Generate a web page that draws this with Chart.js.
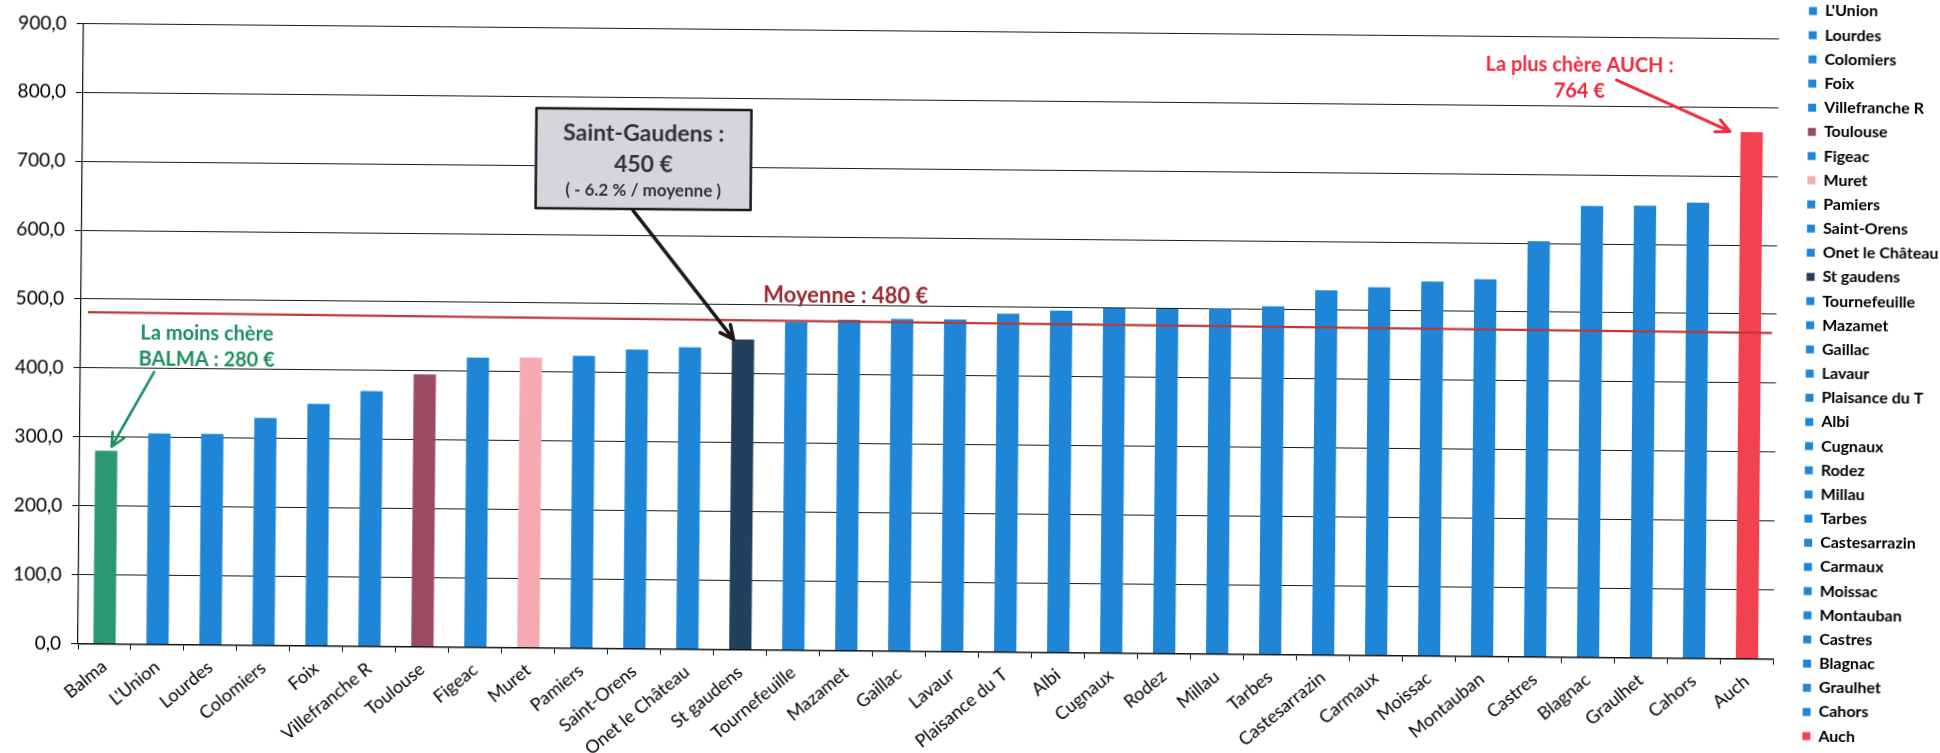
<!DOCTYPE html>
<html lang="fr">
<head>
<meta charset="utf-8">
<title>Prix par ville</title>
<script src="https://cdn.jsdelivr.net/npm/chart.js@4.4.1/dist/chart.umd.min.js"></script>
<style>
  html, body { margin: 0; padding: 0; background: #fff; overflow: hidden; }
  body { width: 1940px; height: 753px; position: relative; }
  /* le scan d'origine est légèrement penché */
  #wrap {
    position: absolute; left: 0; top: -45px;
    width: 1940px; height: 878px;
    transform: rotate(0.52deg);
    transform-origin: 78px 688.5px;
  }
</style>
</head>
<body>
<div id="wrap"><canvas id="prixChart"></canvas></div>
<script>
// Villes (ordre croissant du prix)
const villes = [
  "Balma", "L'Union", "Lourdes", "Colomiers", "Foix", "Villefranche R",
  "Toulouse", "Figeac", "Muret", "Pamiers", "Saint-Orens", "Onet le Château",
  "St gaudens", "Tournefeuille", "Mazamet", "Gaillac", "Lavaur", "Plaisance du T",
  "Albi", "Cugnaux", "Rodez", "Millau", "Tarbes", "Castesarrazin",
  "Carmaux", "Moissac", "Montauban", "Castres", "Blagnac", "Graulhet",
  "Cahors", "Auch"
];

// Prix en euros
const prix = [
  280, 306, 306, 330, 351, 370,
  395, 420, 421, 424, 434, 438,
  450, 476, 480, 482, 482, 491,
  496, 500, 500, 501, 505, 529,
  534, 543, 547, 603, 655, 656,
  661, 764
];

// Trait de la moyenne (début, fin)
const moyenne = [481, 473];

// Graduations de l'axe des prix
const yMin = 0;
const yMax = 900;
const yPas = 100;

// Couleurs
const bleu = "#1f86d7";
const couleursSpeciales = {
  "Balma": "#2a9871",
  "Toulouse": "#9c4a62",
  "Muret": "#f6a9b0",
  "St gaudens": "#223f5c",
  "Auch": "#f3424f",
};
const couleurs = villes.map((v) => couleursSpeciales[v] || bleu);

// Fleche simple avec pointe ouverte
function fleche(ctx, x1, y1, x2, y2, color, width) {
  const a = Math.atan2(y2 - y1, x2 - x1);
  const h = 15;
  ctx.strokeStyle = color;
  ctx.lineWidth = width;
  ctx.lineCap = "round";
  ctx.lineJoin = "round";
  ctx.beginPath();
  ctx.moveTo(x1, y1);
  ctx.lineTo(x2, y2);
  ctx.moveTo(x2 - h * Math.cos(a - 0.45), y2 - h * Math.sin(a - 0.45));
  ctx.lineTo(x2, y2);
  ctx.lineTo(x2 - h * Math.cos(a + 0.45), y2 - h * Math.sin(a + 0.45));
  ctx.stroke();
}

function texte(ctx, str, x, y, font, color) {
  ctx.font = font;
  ctx.fillStyle = color;
  ctx.textAlign = "center";
  ctx.textBaseline = "middle";
  ctx.fillText(str, x, y);
}

// Commentaires posés sur le graphique (positions en index de ville / valeur)
const annotations = {
  id: "annotations",
  afterDatasetsDraw(chart) {
    const { ctx, scales: { x, y } } = chart;
    const px = (i) => x.getPixelForValue(i);
    const py = (v) => y.getPixelForValue(v);
    ctx.save();

    // Moyenne
    ctx.strokeStyle = "#b8393a";
    ctx.lineWidth = 2.2;
    ctx.beginPath();
    ctx.moveTo(px(-0.37), py(moyenne[0]));
    ctx.lineTo(px(31.42), py(moyenne[1]));
    ctx.stroke();
    texte(ctx, "Moyenne : 480 €", px(13.93), py(514), "bold 22px Lato", "#9a2b30");

    // La moins chère
    texte(ctx, "La moins chère", px(1.88), py(451), "bold 20px Lato", "#1d8f5f");
    texte(ctx, "BALMA : 280 €", px(1.88), py(413), "bold 20px Lato", "#1d8f5f");
    fleche(ctx, px(0.89), py(395), px(0.1), py(286), "#1d8f5f", 2.6);

    // Saint-Gaudens
    const bx = px(10.09), by = py(710.6), bw = 215, bh = 100;
    fleche(ctx, px(9.9), py(636), px(11.82), py(450), "#1a1a1a", 3.5);
    ctx.fillStyle = "#d6d5db";
    ctx.fillRect(bx - bw / 2, by - bh / 2, bw, bh);
    ctx.strokeStyle = "#1a1a1a";
    ctx.lineWidth = 2.5;
    ctx.strokeRect(bx - bw / 2, by - bh / 2, bw, bh);
    texte(ctx, "Saint-Gaudens :", bx, by - bh / 2 + 25, "bold 23px Lato", "#333");
    texte(ctx, "450 €", bx, by - bh / 2 + 56, "bold 23px Lato", "#333");
    texte(ctx, "( - 6.2 % / moyenne )", bx, by - bh / 2 + 82, "bold 17px Lato", "#333");

    // La plus chère
    texte(ctx, "La plus chère AUCH :", px(27.74), py(859), "bold 20px Lato", "#ee2a3c");
    texte(ctx, "764 €", px(27.74), py(821), "bold 20px Lato", "#ee2a3c");
    fleche(ctx, px(28.44), py(838), px(30.59), py(765), "#ee2a3c", 3);

    ctx.restore();
  },
};

Chart.defaults.font.family = "Lato";
Chart.defaults.color = "#000";

const ctx = document.getElementById("prixChart").getContext("2d");
const prixChart = new Chart(ctx, {
  type: "bar",
  data: {
    labels: villes,
    datasets: [
      {
        data: prix,
        backgroundColor: couleurs,
        borderWidth: 0,
        categoryPercentage: 1,
        barPercentage: 0.42,
      },
    ],
  },
  options: {
    responsive: true,
    maintainAspectRatio: false,
    animation: false,
    layout: { padding: 0 },
    plugins: {
      // titre vide : il réserve juste la marge du haut
      title: {
        display: true,
        text: "",
        padding: { top: 58.4, bottom: 0 },
        font: { size: 10, lineHeight: 1 },
      },
      tooltip: { enabled: false },
      legend: {
        position: "right",
        align: "start",
        maxWidth: 145,
        labels: {
          boxWidth: 8,
          boxHeight: 8,
          padding: 8.17,
          color: "#000",
          font: { size: 16, weight: "bold" },
          generateLabels: () =>
            villes.map((v, i) => ({
              text: v,
              fillStyle: couleurs[i],
              strokeStyle: couleurs[i],
              lineWidth: 0,
              hidden: false,
              index: i,
            })),
        },
      },
    },
    scales: {
      x: {
        grid: {
          drawOnChartArea: false,
          drawTicks: true,
          tickLength: 6,
          color: "#111",
        },
        border: { color: "#111", width: 1.5 },
        ticks: {
          autoSkip: false,
          minRotation: 40,
          maxRotation: 40,
          labelOffset: 0,
          padding: 6,
          font: { size: 18 },
          color: "#000",
        },
        afterFit: (s) => { s.height = 189.5; },
      },
      y: {
        min: yMin,
        max: yMax,
        grid: { color: "#1a1a1a", lineWidth: 1.1, tickLength: 7 },
        border: { color: "#111", width: 1.2 },
        ticks: {
          stepSize: yPas,
          padding: 10,
          font: { size: 19 },
          color: "#000",
          callback: (v) => v.toFixed(1).replace(".", ","),
        },
        afterFit: (s) => { s.width = 78; },
      },
      // petite marge entre le graphique et la légende
      marge: {
        position: "right",
        display: true,
        grid: { display: false },
        border: { display: false },
        ticks: { display: false },
        afterFit: (s) => { s.width = 21.5; },
      },
    },
  },
  plugins: [annotations],
});
</script>
</body>
</html>
